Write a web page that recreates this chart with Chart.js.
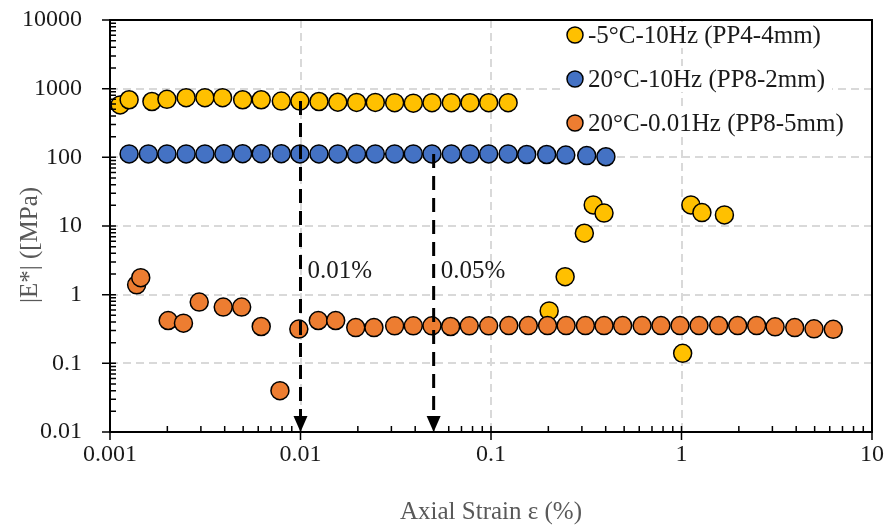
<!DOCTYPE html>
<html>
<head>
<meta charset="utf-8">
<script src="https://cdn.jsdelivr.net/npm/chart.js@4.4.1/dist/chart.umd.min.js"></script>
<style>
  html, body { margin: 0; padding: 0; background: #fff; }
</style>
</head>
<body>
<canvas id="chart" width="886" height="528"></canvas>
<script>
// series names
const seriesLabels = ['-5°C-10Hz (PP4-4mm)', '20°C-10Hz (PP8-2mm)', '20°C-0.01Hz (PP8-5mm)'];

// -5°C - 10Hz (yellow)
const coldStrain = [0.00113, 0.00126, 0.00166, 0.00199, 0.00251, 0.00315, 0.0039, 0.00497, 0.00622, 0.00793,
  0.00993, 0.0125, 0.0157, 0.0197, 0.0247, 0.0312, 0.0391, 0.049, 0.0619, 0.0776, 0.0972, 0.123,
  0.202, 0.245, 0.309, 0.344, 0.392, 1.014, 1.12, 1.28, 1.68];
const coldModulus = [580, 690, 650, 700, 740, 740, 740, 690, 690, 660,
  660, 650, 635, 630, 630, 625, 615, 625, 625, 625, 625, 625,
  0.58, 1.83, 7.85, 20.3, 15.4, 0.14, 20.3, 15.7, 14.5];

// 20°C - 10Hz (blue)
const warmStrain = [0.00126, 0.00159, 0.00199, 0.00251, 0.00315, 0.00396, 0.00497, 0.00622, 0.00793, 0.00993,
  0.0125, 0.0157, 0.0197, 0.0247, 0.0312, 0.0391, 0.049, 0.0619, 0.0776, 0.0972,
  0.123, 0.154, 0.196, 0.247, 0.318, 0.401];
const warmModulus = [112, 112, 112, 112, 112, 113, 113, 113, 113, 112,
  112, 112, 112, 112, 112, 112, 112, 112, 112, 112,
  112, 110, 110, 108, 106, 102];

// 20°C - 0.01Hz (orange)
const slowStrain = [0.00138, 0.00145, 0.00202, 0.00243, 0.00294, 0.00393, 0.00491, 0.00622, 0.0078, 0.0098,
  0.0124, 0.0153, 0.0195, 0.0243, 0.0312, 0.0391, 0.049, 0.0614, 0.0769, 0.0972,
  0.124, 0.157, 0.198, 0.248, 0.313, 0.392, 0.491, 0.621, 0.78, 0.982,
  1.236, 1.567, 1.972, 2.48, 3.10, 3.93, 4.96, 6.26];
const slowModulus = [1.39, 1.77, 0.42, 0.385, 0.78, 0.66, 0.66, 0.344, 0.040, 0.315,
  0.42, 0.42, 0.332, 0.332, 0.352, 0.352, 0.352, 0.344, 0.352, 0.352,
  0.355, 0.355, 0.355, 0.355, 0.355, 0.355, 0.355, 0.355, 0.355, 0.355,
  0.355, 0.355, 0.355, 0.355, 0.34, 0.332, 0.318, 0.313];

// axis ticks
const xTickValues = [0.001, 0.01, 0.1, 1, 10];
const xTickLabels = ['0.001', '0.01', '0.1', '1', '10'];
const yTickValues = [0.01, 0.1, 1, 10, 100, 1000, 10000];
const yTickLabels = ['0.01', '0.1', '1', '10', '100', '1000', '10000'];

// threshold arrows
const arrowStrain = [0.01, 0.05];
const arrowStart = [660, 112];
const arrowLabels = ['0.01%', '0.05%'];

const serifFont = "'Liberation Serif', 'Times New Roman', serif";
const colors = ['#FFC000', '#4472C4', '#ED7D31'];

function toPoints(xs, ys) {
    return xs.map((v, i) => ({ x: v, y: ys[i] }));
}

// frame, minor ticks, arrows, legend and titles
const decorations = {
    id: 'decorations',
    afterDatasetsDraw(chart) {
        const { ctx, chartArea: a, scales: { x, y } } = chart;
        ctx.save();

        // dashed arrows down to the strain axis
        arrowStrain.forEach((s, i) => {
            const px = x.getPixelForValue(s);
            const y0 = y.getPixelForValue(arrowStart[i]);
            ctx.strokeStyle = '#000';
            ctx.lineWidth = 3;
            ctx.setLineDash([14, 8]);
            ctx.beginPath();
            ctx.moveTo(px, y0);
            ctx.lineTo(px, a.bottom - 14);
            ctx.stroke();
            ctx.setLineDash([]);
            ctx.fillStyle = '#000';
            ctx.beginPath();
            ctx.moveTo(px - 7, a.bottom - 16);
            ctx.lineTo(px + 7, a.bottom - 16);
            ctx.lineTo(px, a.bottom);
            ctx.closePath();
            ctx.fill();

            ctx.font = '25px ' + serifFont;
            ctx.textAlign = 'left';
            ctx.textBaseline = 'middle';
            ctx.fillStyle = '#1a1a1a';
            ctx.fillText(arrowLabels[i], px + 7, y.getPixelForValue(2.15));
        });

        // frame
        ctx.strokeStyle = '#000';
        ctx.lineWidth = 2;
        ctx.strokeRect(a.left, a.top, a.right - a.left, a.bottom - a.top);

        // ticks: majors cross the axis, minors point inwards
        ctx.lineWidth = 1.5;
        ctx.beginPath();
        for (let d = -2; d < 4; d++) {
            for (let k = 1; k < 10; k++) {
                const py = y.getPixelForValue(k * Math.pow(10, d));
                if (k === 1) {
                    ctx.moveTo(a.left - 8, py); ctx.lineTo(a.left + 6, py);
                } else {
                    ctx.moveTo(a.left, py); ctx.lineTo(a.left + 6, py);
                }
            }
        }
        ctx.moveTo(a.left - 8, a.top); ctx.lineTo(a.left + 6, a.top);
        for (let d = -3; d < 1; d++) {
            for (let k = 1; k < 10; k++) {
                const px = x.getPixelForValue(k * Math.pow(10, d));
                if (k === 1) {
                    ctx.moveTo(px, a.bottom + 8); ctx.lineTo(px, a.bottom - 6);
                } else {
                    ctx.moveTo(px, a.bottom); ctx.lineTo(px, a.bottom - 6);
                }
            }
        }
        ctx.moveTo(a.right, a.bottom + 8); ctx.lineTo(a.right, a.bottom - 6);
        ctx.stroke();

        // legend inside the plot
        ctx.font = '25px ' + serifFont;
        ctx.textAlign = 'left';
        ctx.textBaseline = 'middle';
        chart.data.datasets.forEach((ds, i) => {
            const ly = 35 + i * 44;
            const w = ctx.measureText(ds.label).width;
            ctx.fillStyle = '#fff';
            ctx.fillRect(565, ly - 13, w + 30, 26);
            ctx.beginPath();
            ctx.arc(575, ly, 8, 0, Math.PI * 2);
            ctx.fillStyle = ds.backgroundColor;
            ctx.fill();
            ctx.lineWidth = 1.5;
            ctx.strokeStyle = '#000';
            ctx.stroke();
            ctx.fillStyle = '#1a1a1a';
            ctx.fillText(ds.label, 588, ly + 1);
        });

        // axis titles
        ctx.fillStyle = '#595959';
        ctx.textAlign = 'center';
        ctx.fillText('Axial Strain ε (%)', (a.left + a.right) / 2, 512);
        ctx.translate(30, 245);
        ctx.rotate(-Math.PI / 2);
        ctx.fillText('|E*| ([MPa)', 0, 0);

        ctx.restore();
    }
};

const dataset = (i, xs, ys, order) => ({
    label: seriesLabels[i],
    data: toPoints(xs, ys),
    backgroundColor: colors[i],
    borderColor: '#000',
    borderWidth: 1.5,
    pointRadius: 9,
    pointHoverRadius: 9,
    showLine: false,
    order: order
});

const gridColor = (c) => {
    const v = c.tick && c.tick.value;
    if (v === undefined) return 'rgba(0,0,0,0)';
    const l = Math.log10(v);
    return Math.abs(l - Math.round(l)) < 1e-9 ? '#d9d9d9' : 'rgba(0,0,0,0)';
};

new Chart(document.getElementById('chart'), {
    type: 'scatter',
    data: {
        datasets: [
            dataset(0, coldStrain, coldModulus, 2),
            dataset(1, warmStrain, warmModulus, 1),
            dataset(2, slowStrain, slowModulus, 0)
        ]
    },
    options: {
        responsive: false,
        animation: false,
        layout: { padding: { top: 20, right: 14, left: 0, bottom: 0 } },
        plugins: {
            legend: { display: false },
            tooltip: { enabled: false }
        },
        scales: {
            x: {
                type: 'logarithmic',
                min: 0.001,
                max: 10,
                afterBuildTicks: (s) => { s.ticks = xTickValues.map(v => ({ value: v })); },
                afterFit: (s) => { s.height = 96; s.paddingLeft = 0; s.paddingRight = 0; },
                grid: { color: gridColor, lineWidth: 2, drawTicks: false },
                border: { display: false, dash: [8, 5] },
                ticks: {
                    autoSkip: false,
                    maxRotation: 0,
                    padding: 8,
                    color: '#1a1a1a',
                    font: { family: serifFont, size: 24 },
                    callback: (v) => xTickLabels[xTickValues.indexOf(v)]
                }
            },
            y: {
                type: 'logarithmic',
                min: 0.01,
                max: 10000,
                afterBuildTicks: (s) => { s.ticks = yTickValues.map(v => ({ value: v })); },
                afterFit: (s) => { s.width = 110; s.paddingTop = 0; s.paddingBottom = 0; },
                grid: { color: gridColor, lineWidth: 2, drawTicks: false },
                border: { display: false, dash: [8, 5] },
                ticks: {
                    padding: 28,
                    color: '#1a1a1a',
                    font: { family: serifFont, size: 24 },
                    callback: (v) => yTickLabels[yTickValues.indexOf(v)]
                }
            }
        }
    },
    plugins: [decorations]
});
</script>
</body>
</html>
